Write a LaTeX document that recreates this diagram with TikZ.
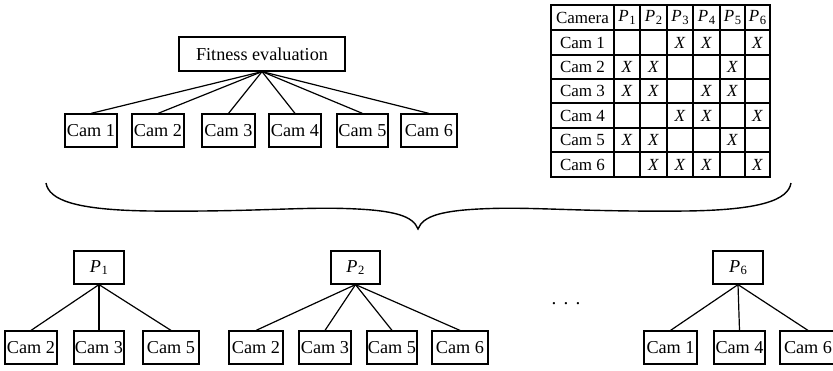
\documentclass[tikz,border=0pt]{standalone}
\usepackage{fontspec}
\setmainfont{Liberation Serif}
\newcommand{\Pk}[1]{\textit{P}\kern0.3pt\raisebox{-0.3ex}{\fontsize{6.3}{7}\selectfont #1}}
\begin{document}
\begin{tikzpicture}[x=0.5pt,y=-0.5pt,
  box/.style={draw, line width=0.6pt, inner sep=0pt, minimum height=16.5pt, font=\fontsize{9.1}{11}\selectfont},
  link/.style={line width=0.6pt},
  grid/.style={line width=0.6pt},
  cell/.style={inner sep=0pt, font=\fontsize{8.5}{10}\selectfont},
  bracecurve/.style={line width=0.7pt}]
\useasboundingbox (0,0) rectangle (833,370);

% top tree
\node[box, minimum width=83pt, minimum height=17pt] (fit) at (262,54) {Fitness evaluation};
\node[box, minimum width=26pt] (t1) at (91,130.5) {Cam 1};
\node[box, minimum width=26pt] (t2) at (158,130.5) {Cam 2};
\node[box, minimum width=26.5pt] (t3) at (228.5,130.5) {Cam 3};
\node[box, minimum width=26pt] (t4) at (295,130.5) {Cam 4};
\node[box, minimum width=25.5pt] (t5) at (362.5,130.5) {Cam 5};
\node[box, minimum width=28pt] (t6) at (429,130.5) {Cam 6};
\foreach \i in {1,...,6} \draw[link] (fit.south) -- (t\i.north);

% table
\draw[grid] (551,5) rectangle (770,177);
\foreach \xx in {614,640,667,693,720,745} \draw[grid] (\xx,5) -- (\xx,177);
\foreach \yy in {30,55,79,103,128,152} \draw[grid] (551,\yy) -- (770,\yy);
\node[cell] (hcam) at (582.5,17.5) {Camera};
\foreach \c/\cx in {1/627,2/653.5,3/680,4/706.5,5/732.5,6/757.5}
  \node[cell] (hp\c) at (\cx,17.5) {\Pk{\c}};
\foreach \r/\ry in {1/42.5,2/67,3/91,4/115.5,5/140,6/164.5}
  \node[cell] (rc\r) at (582.5,\ry) {Cam \r};
\foreach \r/\c in {1/3,1/4,1/6,2/1,2/2,2/5,3/1,3/2,3/4,3/5,4/3,4/4,4/6,5/1,5/2,5/5,6/2,6/3,6/4,6/6}
  \node[cell] (x\r\c) at (hp\c |- rc\r) {\textit{X}};

% brace
\draw[bracecurve] (46,183) .. controls (49,200) and (75,210) .. (150,211)
  .. controls (250,212) and (300,207) .. (345,208.5)
  .. controls (395,210) and (413,216) .. (418,229)
  .. controls (423,216) and (441,210) .. (491,208.5)
  .. controls (536,207) and (586,212) .. (686,211)
  .. controls (761,210) and (788,200) .. (791,183);

% P1 tree
\node[box, minimum width=25pt] (p1) at (99,267.5) {\Pk{1}};
\node[box, minimum width=26pt] (a2) at (31,347.5) {Cam 2};
\node[box, minimum width=25pt] (a3) at (99,347.5) {Cam 3};
\node[box, minimum width=28pt] (a5) at (171,347.5) {Cam 5};
\foreach \n in {a2,a3,a5} \draw[link] (p1.south) -- (\n.north);

% P2 tree
\node[box, minimum width=24.5pt] (p2) at (355.5,267.5) {\Pk{2}};
\node[box, minimum width=27pt] (b2) at (256,347.5) {Cam 2};
\node[box, minimum width=26pt] (b3) at (325,347.5) {Cam 3};
\node[box, minimum width=25pt] (b5) at (392,347.5) {Cam 5};
\node[box, minimum width=28pt] (b6) at (460,347.5) {Cam 6};
\foreach \n in {b2,b3,b5,b6} \draw[link] (p2.south) -- (\n.north);

% dots
\node[inner sep=0pt, font=\fontsize{9.6}{11}\selectfont, anchor=base] (dots) at (566,304) {.\hspace{3.6pt}.\hspace{3.6pt}.};

% P6 tree
\node[box, minimum width=25pt] (p6) at (738,267.5) {\Pk{6}};
\node[box, minimum width=26.5pt] (c1) at (670.5,347.5) {Cam 1};
\node[box, minimum width=25.5pt] (c4) at (739.5,347.5) {Cam 4};
\node[box, minimum width=28pt] (c6) at (808,347.5) {Cam 6};
\foreach \n in {c1,c4,c6} \draw[link] (p6.south) -- (\n.north);
\end{tikzpicture}
\end{document}
